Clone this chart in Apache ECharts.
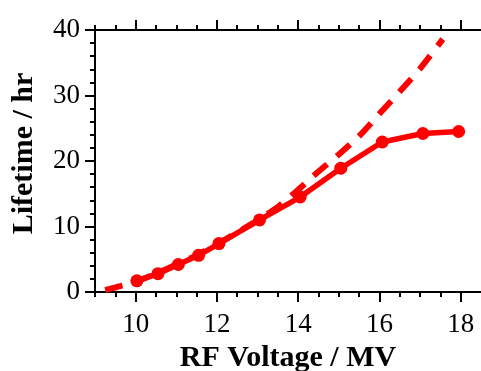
<!DOCTYPE html>
<html><head><meta charset="utf-8">
<script src="https://cdn.jsdelivr.net/npm/echarts@6/dist/echarts.min.js"></script>
<style>html,body{margin:0;padding:0;background:#fff}#c{width:481px;height:371px}</style>
</head><body><div id="c"></div>
<script>
// Measured series (solid with markers)
const measuredV = [10.03, 10.55, 11.05, 11.55, 12.05, 13.05, 14.05, 15.05, 16.07, 17.07, 17.95];
const measuredLife = [1.7, 2.8, 4.2, 5.6, 7.4, 11.0, 14.5, 18.9, 22.9, 24.2, 24.5];
// Calculated series (dashed)
const calcV = [9.25, 9.62, 10.0, 10.5, 11.0, 11.5, 12.0, 12.5, 13.0, 13.5, 14.0, 14.5, 15.0, 15.5, 16.0, 16.5, 17.0, 17.56];
const calcLife = [0.3, 0.9, 1.6, 2.8, 4.2, 5.6, 7.3, 9.1, 10.9, 13.0, 15.6, 18.4, 21.0, 23.8, 27.2, 30.6, 34.1, 38.6];
// Tick labels / positions
const xMajorTicks = [10, 12, 14, 16, 18];
const xMinorTicks = [9, 9.5, 10.5, 11, 11.5, 12.5, 13, 13.5, 14.5, 15, 15.5, 16.5, 17, 17.5];
const yTicks = [0, 10, 20, 30, 40];

const xName = 'RF Voltage / MV';
const yName = 'Lifetime / hr';

const font = 'Liberation Serif';
const axisColor = '#000';
const red = '#ff0000';

function zip(a, b) { return a.map((v, i) => [v, b[i]]); }

const baseX = { type: 'value', min: 9, max: 18.5, splitLine: { show: false } };

const chart = echarts.init(document.getElementById('c'), null, { renderer: 'canvas' });
chart.setOption({
  animation: false,
  backgroundColor: '#fff',
  grid: { left: 95, top: 30, right: 0, bottom: 79, containLabel: false, outerBoundsMode: 'none' },
  xAxis: [
    Object.assign({}, baseX, {
      position: 'bottom',
      name: xName, nameLocation: 'middle', nameGap: 50,
      nameTextStyle: { fontFamily: font, fontWeight: 'bold', fontSize: 30, color: '#000' },
      axisLine: { show: true, onZero: false, lineStyle: { color: axisColor, width: 2 } },
      axisTick: { show: true, length: 10, customValues: xMajorTicks, lineStyle: { color: axisColor, width: 2 } },
      axisLabel: { show: true, customValues: xMajorTicks, margin: 19, fontFamily: font, fontSize: 27, color: '#000' }
    }),
    Object.assign({}, baseX, {
      position: 'bottom',
      axisLine: { show: false, onZero: false },
      axisTick: { show: true, length: 5, customValues: xMinorTicks, lineStyle: { color: axisColor, width: 2 } },
      axisLabel: { show: false }
    }),
    Object.assign({}, baseX, {
      position: 'top',
      axisLine: { show: true, onZero: false, lineStyle: { color: axisColor, width: 2 } },
      axisTick: { show: true, length: 10, customValues: xMajorTicks, lineStyle: { color: axisColor, width: 2 } },
      axisLabel: { show: false }
    }),
    Object.assign({}, baseX, {
      position: 'top',
      axisLine: { show: false, onZero: false },
      axisTick: { show: true, length: 5, customValues: xMinorTicks, lineStyle: { color: axisColor, width: 2 } },
      axisLabel: { show: false }
    })
  ],
  yAxis: [{
    type: 'value', min: yTicks[0], max: yTicks[yTicks.length - 1], interval: 10,
    position: 'left',
    name: yName, nameLocation: 'middle', nameGap: 56, nameRotate: 90,
    nameTextStyle: { fontFamily: font, fontWeight: 'bold', fontSize: 30, color: '#000', padding: [0, 0, 0, 15] },
    splitLine: { show: false },
    axisLine: { show: true, onZero: false, lineStyle: { color: axisColor, width: 2 } },
    axisTick: { show: true, length: 10, lineStyle: { color: axisColor, width: 2 } },
    minorTick: { show: true, splitNumber: 5, length: 5, lineStyle: { color: axisColor, width: 2 } },
    axisLabel: { show: true, margin: 15, padding: [0, 0, 6, 0], fontFamily: font, fontSize: 27, color: '#000' }
  }],
  series: [
    {
      type: 'line', xAxisIndex: 0, yAxisIndex: 0,
      data: zip(calcV, calcLife),
      showSymbol: false, symbol: 'none', smooth: 0.2,
      lineStyle: { color: red, width: 6, type: [18, 12], cap: 'butt' },
      z: 2
    },
    {
      type: 'line', xAxisIndex: 0, yAxisIndex: 0,
      data: zip(measuredV, measuredLife),
      symbol: 'circle', symbolSize: 13, showSymbol: true,
      itemStyle: { color: red },
      lineStyle: { color: red, width: 5.5 },
      z: 3
    }
  ]
});
</script>
</body></html>
